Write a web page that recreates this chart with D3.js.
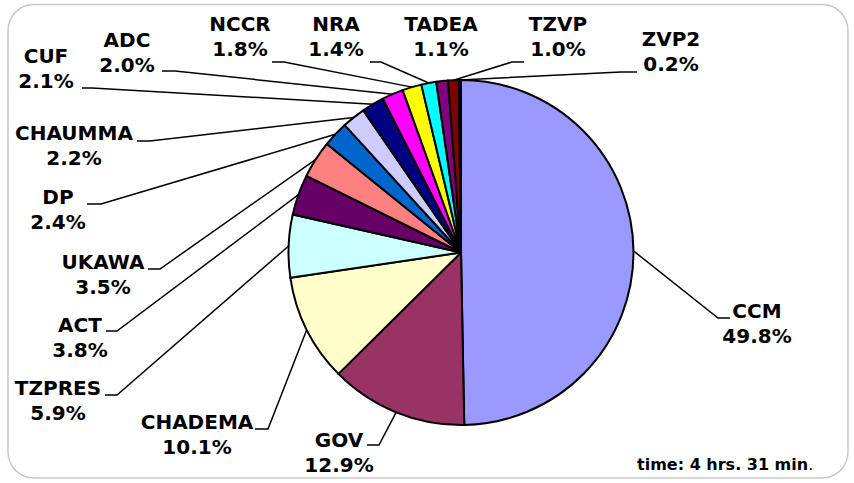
<!DOCTYPE html>
<html>
<head>
<meta charset="utf-8">
<script src="https://cdn.jsdelivr.net/npm/d3@7"></script>
<style>
body { margin: 0; background: #fff; }
svg text { font-family: "DejaVu Sans", Verdana, sans-serif; font-weight: bold; fill: #000; }
</style>
</head>
<body>
<svg id="chart" width="854" height="483"></svg>
<script>
// data
var parties = ["CCM", "GOV", "CHADEMA", "TZPRES", "ACT", "UKAWA", "DP", "CHAUMMA", "CUF", "ADC", "NCCR", "NRA", "TADEA", "TZVP", "ZVP2"];
var shares = [49.8, 12.9, 10.1, 5.9, 3.8, 3.5, 2.4, 2.2, 2.1, 2.0, 1.8, 1.4, 1.1, 1.0, 0.2];
var colors = ["#9999ff", "#993366", "#ffffcc", "#ccffff", "#660066", "#ff8080", "#0066cc", "#ccccff", "#000080", "#ff00ff", "#ffff00", "#00ffff", "#800080", "#800000", "#008080"];
var timeNote = "time: 4 hrs. 31 min";

// where excel put each label: text centre, first baseline, leader stub (null = no leader)
var labelPos = [
    {x: 757, y: 318, sx: 730, ex: 718, sy: 318},
    {x: 339, y: 447, sx: 367, ex: 379, sy: 445},
    {x: 197, y: 429, sx: 255, ex: 268, sy: 429},
    {x: 58,  y: 395, sx: 105, ex: 117, sy: 395},
    {x: 80,  y: 332, sx: 106, ex: 117, sy: 331},
    {x: 103, y: 269, sx: 148, ex: 160, sy: 269},
    {x: 58,  y: 204, sx: 87,  ex: 101, sy: 204},
    {x: 74,  y: 140, sx: 137, ex: 150, sy: 141},
    {x: 46,  y: 63,  sx: 82,  ex: 92,  sy: 88},
    {x: 127, y: 47,  sx: 162, ex: 175, sy: 71},
    {x: 240, y: 31,  sx: 272, ex: 284, sy: 62},
    {x: 336, y: 31,  sx: 370, ex: 381, sy: 62},
    {x: 441, y: 31,  sx: null},
    {x: 558, y: 31,  sx: 524, ex: 512, sy: 62},
    {x: 671, y: 46,  sx: 637, ex: 621, sy: 72}
];

var width = 854, height = 483;
var cx = 461, cy = 252.5, radius = 172.5;
var lineGap = 24.5;

var svg = d3.select("#chart");

// outer frame
svg.append("rect")
    .attr("x", 8).attr("y", 4.5)
    .attr("width", 840).attr("height", 473.5)
    .attr("rx", 26).attr("ry", 26)
    .attr("fill", "none")
    .attr("stroke", "#c8c8c8")
    .attr("stroke-width", 1.5);

var slices = parties.map(function(p, i){ return {name: p, value: shares[i], color: colors[i], pos: labelPos[i]}; });

var pie = d3.pie().sort(null).value(function(d){ return d.value; });
var arc = d3.arc().innerRadius(0).outerRadius(radius);

var g = svg.append("g").attr("transform", "translate(" + cx + "," + cy + ")");
var arcs = pie(slices);

g.selectAll("path.slice")
    .data(arcs)
    .enter().append("path")
    .attr("class", "slice")
    .attr("d", arc)
    .attr("fill", function(d){ return d.data.color; })
    .attr("stroke", "#000")
    .attr("stroke-width", 2)
    .attr("stroke-linejoin", "round");

// leader lines: stub next to label, then to the middle of the slice's rim
function rimPoint(d){
    var a = (d.startAngle + d.endAngle) / 2;
    return [cx + radius * Math.sin(a), cy - radius * Math.cos(a)];
}

svg.selectAll("polyline.leader")
    .data(arcs.filter(function(d){ return d.data.pos.sx != null; }))
    .enter().append("polyline")
    .attr("class", "leader")
    .attr("points", function(d){
        var p = d.data.pos, r = rimPoint(d);
        return [[p.sx, p.sy], [p.ex, p.sy], r].join(" ");
    })
    .attr("fill", "none")
    .attr("stroke", "#000")
    .attr("stroke-width", 1.5);

var fmt = d3.format(".1f");
var labels = svg.selectAll("text.lbl")
    .data(arcs)
    .enter().append("text")
    .attr("class", "lbl")
    .attr("text-anchor", "middle")
    .style("font-size", "20px");

labels.append("tspan")
    .attr("x", function(d){ return d.data.pos.x; })
    .attr("y", function(d){ return d.data.pos.y; })
    .text(function(d){ return d.data.name; });
labels.append("tspan")
    .attr("x", function(d){ return d.data.pos.x; })
    .attr("y", function(d){ return d.data.pos.y + lineGap; })
    .text(function(d){ return fmt(d.data.value) + "%"; });

var note = svg.append("text")
    .attr("x", 637).attr("y", 470)
    .style("font-size", "16px");
note.append("tspan").text(timeNote);
note.append("tspan").style("font-weight", "normal").text(".");
</script>
</body>
</html>
